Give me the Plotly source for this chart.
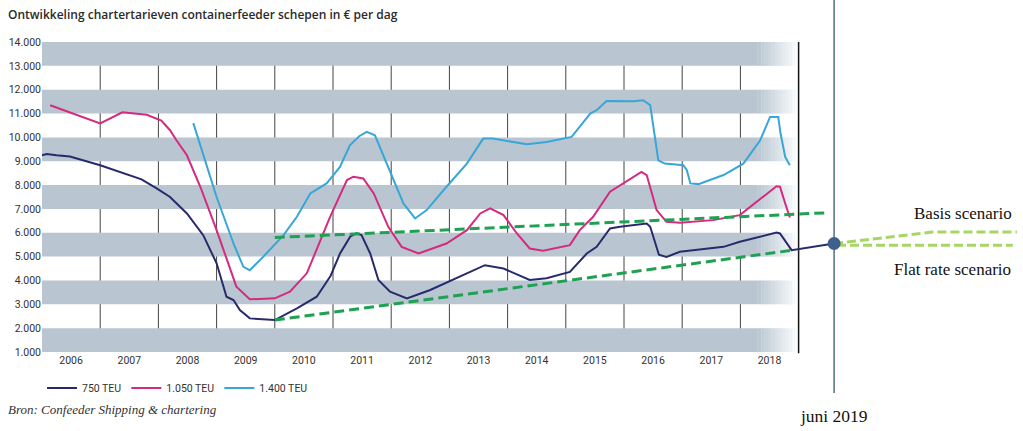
import plotly.graph_objects as go

# ---------------- data ----------------
years = list(range(2006, 2019))
y_ticks = list(range(1000, 15000, 1000))
y_ticktext = [f"{v // 1000}.000" for v in y_ticks]

t750 = [2006.0, 2006.08, 2006.25, 2006.48, 2007.0, 2007.71, 2007.97, 2008.2, 2008.49, 2008.77,
        2009.0, 2009.17, 2009.29, 2009.4, 2009.57, 2010.0, 2010.38, 2010.72, 2010.96, 2011.12,
        2011.2, 2011.3, 2011.4, 2011.49, 2011.64, 2011.78, 2011.98, 2012.27, 2012.67, 2013.24,
        2013.61, 2013.93, 2014.38, 2014.67, 2015.07, 2015.36, 2015.53, 2015.76, 2015.93, 2016.39,
        2016.45, 2016.6, 2016.73, 2016.96, 2017.71, 2017.99, 2018.62, 2018.68, 2018.88, 2019.61]
v750 = [9250, 9300, 9250, 9200, 8830, 8240, 7860, 7500, 6810, 5900,
        4720, 3320, 3180, 2760, 2410, 2340, 2830, 3320, 4200, 5130,
        5450, 5850, 5980, 5900, 5130, 4020, 3530, 3250, 3600, 4230,
        4640, 4500, 4020, 4090, 4360, 5130, 5410, 6180, 6250, 6390,
        6250, 5080, 4990, 5200, 5410, 5620, 6010, 5970, 5270, 5550]

t1050 = [2006.14, 2007.0, 2007.38, 2007.8, 2008.05, 2008.2, 2008.31, 2008.49, 2008.72, 2009.0,
         2009.34, 2009.57, 2010.0, 2010.26, 2010.55, 2010.95, 2011.24, 2011.35, 2011.52, 2011.7,
         2011.95, 2012.18, 2012.47, 2012.95, 2013.3, 2013.53, 2013.7, 2013.93, 2014.16, 2014.38,
         2014.61, 2015.07, 2015.24, 2015.47, 2015.76, 2015.99, 2016.3, 2016.39, 2016.48, 2016.56,
         2016.73, 2016.96, 2017.53, 2017.99, 2018.62, 2018.68, 2018.77, 2018.85]
v1050 = [11350, 10590, 11050, 10950, 10700, 10300, 9880, 9250, 7930, 6110,
         3740, 3210, 3250, 3530, 4300, 6670, 8210, 8350, 8280, 7650,
         6250, 5410, 5130, 5550, 6110, 6810, 7020, 6740, 5970, 5340,
         5250, 5480, 6110, 6670, 7720, 8070, 8550, 8420, 7650, 6950,
         6460, 6420, 6530, 6740, 7950, 7930, 7230, 6640]

t1400 = [2008.6, 2008.69, 2009.0, 2009.29, 2009.46, 2009.57, 2009.8, 2010.15, 2010.38, 2010.61,
         2010.89, 2011.12, 2011.29, 2011.45, 2011.58, 2011.72, 2011.92, 2012.21, 2012.41, 2012.61,
         2012.95, 2013.3, 2013.58, 2013.75, 2014.33, 2014.67, 2015.1, 2015.42, 2015.53, 2015.7,
         2016.16, 2016.33, 2016.45, 2016.59, 2016.7, 2017.02, 2017.08, 2017.14, 2017.28, 2017.71,
         2018.05, 2018.34, 2018.51, 2018.65, 2018.69, 2018.77, 2018.85]
v1400 = [10600, 9880, 7500, 5550, 4570, 4430, 4990, 5900, 6670, 7650,
         8070, 8760, 9670, 10050, 10230, 10090, 8900, 7230, 6600, 6950,
         7930, 8900, 9950, 9950, 9710, 9810, 10020, 11000, 11140, 11530,
         11520, 11560, 11350, 9040, 8900, 8830, 8620, 8070, 8040, 8420,
         8900, 9880, 10860, 10860, 10160, 9180, 8830]

trend_upper_t = [2010.0, 2019.51]
trend_upper_v = [5800, 6840]
trend_lower_t = [2010.0, 2018.9]
trend_lower_v = [2340, 5270]
basis_t = [2019.61, 2021.3, 2022.75]
basis_v = [5550, 6030, 6030]
flat_t = [2019.66, 2022.68]
flat_v = [5480, 5480]
point_t = [2019.61]
point_v = [5550]
juni_2019 = 2019.61

# ---------------- styles ----------------
NAVY = "#272b6b"
MAGENTA = "#d42a7f"
CYAN = "#38a6d6"
BAND = "#b9c6d2"
DGREEN = "#20a052"
LGREEN = "#a6d764"
SANS = "Roboto, 'Open Sans', sans-serif"
SERIF = "'Liberation Serif', 'DejaVu Serif', serif"

fig = go.Figure()

fig.add_trace(go.Scatter(x=t750, y=v750, mode="lines", name="750 TEU",
                         line=dict(color=NAVY, width=2)))
fig.add_trace(go.Scatter(x=t1050, y=v1050, mode="lines", name="1.050 TEU",
                         line=dict(color=MAGENTA, width=2)))
fig.add_trace(go.Scatter(x=t1400, y=v1400, mode="lines", name="1.400 TEU",
                         line=dict(color=CYAN, width=2)))

for tt, vv, col in [(trend_upper_t, trend_upper_v, DGREEN), (trend_lower_t, trend_lower_v, DGREEN)]:
    fig.add_trace(go.Scatter(x=tt, y=vv, mode="lines", showlegend=False,
                             line=dict(color=col, width=3, dash="10px,5px")))
for tt, vv in [(basis_t, basis_v), (flat_t, flat_v)]:
    fig.add_trace(go.Scatter(x=tt, y=vv, mode="lines", showlegend=False,
                             line=dict(color=LGREEN, width=3, dash="9px,4px")))
fig.add_trace(go.Scatter(x=point_t, y=point_v, mode="markers", showlegend=False,
                         marker=dict(color="#3e5e8e", size=13)))

shapes = []
x0 = years[0]
fade_start = years[-1] + 0.3
x_end = years[-1] + 1
nfade = 12
for lo in y_ticks[:-1:2]:
    hi = lo + 1000
    shapes.append(dict(type="rect", xref="x", yref="y", x0=x0, x1=fade_start, y0=lo, y1=hi,
                       fillcolor=BAND, line=dict(width=0), layer="below"))
    step = (x_end - fade_start) / nfade
    for i in range(nfade):
        shapes.append(dict(type="rect", xref="x", yref="y",
                           x0=fade_start + i * step, x1=fade_start + (i + 1) * step + 0.002,
                           y0=lo, y1=hi, fillcolor=BAND, opacity=1 - (i + 0.5) / nfade,
                           line=dict(width=0), layer="below"))
for yr in years[1:]:
    shapes.append(dict(type="line", xref="x", yref="paper", x0=yr, x1=yr, y0=0, y1=1,
                       line=dict(color="#444444", width=1), layer="below"))
shapes.append(dict(type="line", xref="x", yref="paper", x0=x_end, x1=x_end, y0=-0.004, y1=1,
                   line=dict(color="#111111", width=1.5), layer="below"))
shapes.append(dict(type="line", xref="x", yref="paper", x0=juni_2019, x1=juni_2019,
                   y0=-0.132, y1=1.14, line=dict(color="#4f6f86", width=1.5), layer="below"))

annotations = [
    dict(text="Ontwikkeling chartertarieven containerfeeder schepen in € per dag",
         xref="paper", yref="paper", x=-0.037, y=1.089, xanchor="left", yanchor="middle",
         showarrow=False, font=dict(family="'Open Sans', sans-serif", size=12, color="#2a2a2a", weight=600)),
    dict(text="Basis scenario", xref="paper", yref="paper", x=0.991, y=0.448,
         xanchor="right", yanchor="middle", showarrow=False,
         font=dict(family=SERIF, size=17, color="#111111")),
    dict(text="Flat rate scenario", xref="paper", yref="paper", x=0.990, y=0.2675,
         xanchor="right", yanchor="middle", showarrow=False,
         font=dict(family=SERIF, size=17, color="#111111")),
    dict(text="juni 2019", xref="x", yref="paper", x=juni_2019, y=-0.206,
         xanchor="center", yanchor="middle", showarrow=False,
         font=dict(family=SERIF, size=17.5, color="#111111")),
    dict(text="<i>Bron: Confeeder Shipping &amp; chartering</i>", xref="paper", yref="paper",
         x=-0.037, y=-0.187, xanchor="left", yanchor="middle", showarrow=False,
         font=dict(family=SERIF, size=13, color="#333333")),
]

fig.update_layout(
    width=1023, height=431,
    margin=dict(l=42, r=0, t=42, b=79, pad=0),
    paper_bgcolor="white", plot_bgcolor="white",
    shapes=shapes, annotations=annotations,
    showlegend=True,
    legend=dict(orientation="h", x=0.0, y=-0.116, xanchor="left", yanchor="middle",
                font=dict(family=SANS, size=10.5, color="#333333"), bgcolor="rgba(0,0,0,0)"),
    xaxis=dict(range=[years[0], years[0] + 981 / 58.2], tickvals=[y + 0.5 for y in years],
               ticktext=[str(y) for y in years], showgrid=False, zeroline=False, showline=False,
               ticks="", tickfont=dict(family=SANS, size=10.5, color="#333333")),
    yaxis=dict(range=[1000, 14000], tickvals=y_ticks, ticktext=y_ticktext, showgrid=False,
               zeroline=False, showline=False, ticks="",
               tickfont=dict(family=SANS, size=10.5, color="#333333")),
)

fig.write_html("out.html", config={"displayModeBar": False},
               post_script="document.body.style.margin='0';document.body.style.overflow='hidden';")
